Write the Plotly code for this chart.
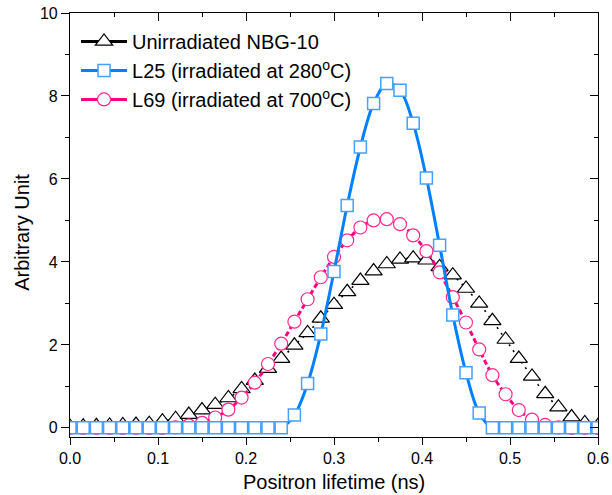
import plotly.graph_objects as go

# x: positron lifetime (ns), 41 channels
lifetime = [round(0.015 * i, 3) for i in range(41)]

unirradiated = [0.03, 0.04, 0.05, 0.06, 0.07, 0.08, 0.10, 0.16, 0.22, 0.32,
                0.43, 0.56, 0.72, 0.94, 1.14, 1.43, 1.67, 1.99, 2.29, 2.64,
                2.97, 3.28, 3.55, 3.78, 3.95, 4.06, 4.09, 4.04, 3.88, 3.68,
                3.36, 3.00, 2.58, 2.13, 1.67, 1.24, 0.82, 0.50, 0.26, 0.12,
                0.05]

l25 = [0, 0, 0, 0, 0, 0, 0, 0, 0, 0,
       0, 0, 0, 0, 0, 0, 0, 0.31, 1.07, 2.26,
       3.77, 5.36, 6.77, 7.82, 8.30, 8.14, 7.34, 6.02, 4.40, 2.72,
       1.33, 0.36, 0, 0, 0, 0, 0, 0, 0, 0,
       0]

l69 = [0, 0, 0, 0, 0, 0, 0, 0, 0.01, 0.06,
       0.12, 0.25, 0.44, 0.73, 1.09, 1.54, 2.03, 2.56, 3.10, 3.63,
       4.12, 4.52, 4.83, 5.00, 5.03, 4.91, 4.64, 4.26, 3.75, 3.15,
       2.54, 1.89, 1.27, 0.81, 0.43, 0.20, 0.07, 0.01, 0, 0,
       0]

names = ["Unirradiated NBG-10",
         "L25 (irradiated at 280<sup>o</sup>C)",
         "L69 (irradiated at 700<sup>o</sup>C)"]

x_ticks = [0.0, 0.1, 0.2, 0.3, 0.4, 0.5, 0.6]
x_ticklabels = ["0.0", "0.1", "0.2", "0.3", "0.4", "0.5", "0.6"]
y_ticks = [0, 2, 4, 6, 8, 10]

FONT = "Liberation Sans, Arial, sans-serif"

BLACK = "black"
BLUE_LINE = "rgb(0,128,255)"
BLUE_MARK = "rgb(70,160,255)"
PINK_LINE = "rgb(255,0,128)"
PINK_MARK = "rgb(255,40,140)"

tri_marker = dict(symbol="triangle-up", size=15, color="white",
                  line=dict(color=BLACK, width=1.2))
circ_marker = dict(symbol="circle", size=13, color="white",
                   line=dict(color=PINK_MARK, width=1.2))
sq_marker = dict(symbol="square", size=12, color="white",
                 line=dict(color=BLUE_MARK, width=1.5))

fig = go.Figure()

fig.add_trace(go.Scatter(
    x=lifetime, y=unirradiated, name=names[0], mode="lines+markers",
    line=dict(color=BLACK, width=1.6, dash="2px,5px", shape="spline"),
    marker=tri_marker, showlegend=False,
))
fig.add_trace(go.Scatter(
    x=lifetime, y=l69, name=names[2], mode="lines+markers",
    line=dict(color=PINK_LINE, width=3, dash="5px,3px", shape="spline"),
    marker=circ_marker, showlegend=False,
))
fig.add_trace(go.Scatter(
    x=lifetime, y=l25, name=names[1], mode="lines+markers",
    line=dict(color=BLUE_LINE, width=3, shape="spline"),
    marker=sq_marker, showlegend=False,
))

# legend entries (solid sample lines, as in the original legend)
for nm, col, mk in [(names[0], BLACK, tri_marker),
                    (names[1], BLUE_LINE, sq_marker),
                    (names[2], PINK_LINE, circ_marker)]:
    fig.add_trace(go.Scatter(x=[None], y=[None], name=nm, mode="lines+markers",
                             line=dict(color=col, width=3), marker=mk,
                             hoverinfo="skip"))

# empty helper trace so the mirrored top/right axes are drawn
fig.add_trace(go.Scatter(x=[], y=[], xaxis="x2", yaxis="y2",
                         showlegend=False, hoverinfo="skip"))

axis_common = dict(
    showgrid=False, zeroline=False, showline=True, linecolor="black",
    linewidth=1.2, tickcolor="black", tickwidth=1.2, automargin=False,
    tickfont=dict(family=FONT, size=16, color="black"),
)

fig.update_layout(
    width=612, height=495,
    margin=dict(l=70, r=14, t=13, b=58),
    paper_bgcolor="white", plot_bgcolor="white",
    font=dict(family=FONT, color="black"),
    showlegend=True,
    legend=dict(x=0.0114, y=0.979, xanchor="left", yanchor="top",
                bgcolor="rgba(0,0,0,0)", font=dict(family=FONT, size=20),
                itemwidth=46, traceorder="normal"),
    xaxis=dict(range=[0, 0.6], tickvals=x_ticks, ticktext=x_ticklabels,
               ticks="outside", ticklen=7,
               minor=dict(dtick=0.05, tick0=0, ticks="outside", ticklen=4,
                          tickcolor="black", tickwidth=1.2),
               **axis_common),
    xaxis2=dict(range=[0, 0.6], overlaying="x", side="top", anchor="y2",
                tickvals=x_ticks, showticklabels=False, ticks="inside",
                ticklen=8,
                minor=dict(dtick=0.05, tick0=0, ticks="inside", ticklen=4,
                           tickcolor="black", tickwidth=1.2),
                **axis_common),
    yaxis=dict(range=[-0.22, 10], tickvals=y_ticks, ticks="outside",
               ticklen=8,
               minor=dict(dtick=1, tick0=0, ticks="outside", ticklen=4,
                          tickcolor="black", tickwidth=1.2),
               **axis_common),
    yaxis2=dict(range=[-0.22, 10], overlaying="y", side="right", anchor="x2",
                tickvals=y_ticks, showticklabels=False, ticks="inside",
                ticklen=8,
                minor=dict(dtick=1, tick0=0, ticks="inside", ticklen=4,
                           tickcolor="black", tickwidth=1.2),
                **axis_common),
    annotations=[
        dict(text="Positron lifetime (ns)", xref="paper", yref="paper",
             x=0.5, y=-0.107, xanchor="center", yanchor="middle",
             showarrow=False, font=dict(family=FONT, size=20, color="black")),
        dict(text="Arbitrary Unit", xref="paper", yref="paper",
             x=-0.0909, y=0.4816, xanchor="center", yanchor="middle",
             textangle=-90, showarrow=False,
             font=dict(family=FONT, size=20, color="black")),
    ],
)

fig.write_html("out.html")
